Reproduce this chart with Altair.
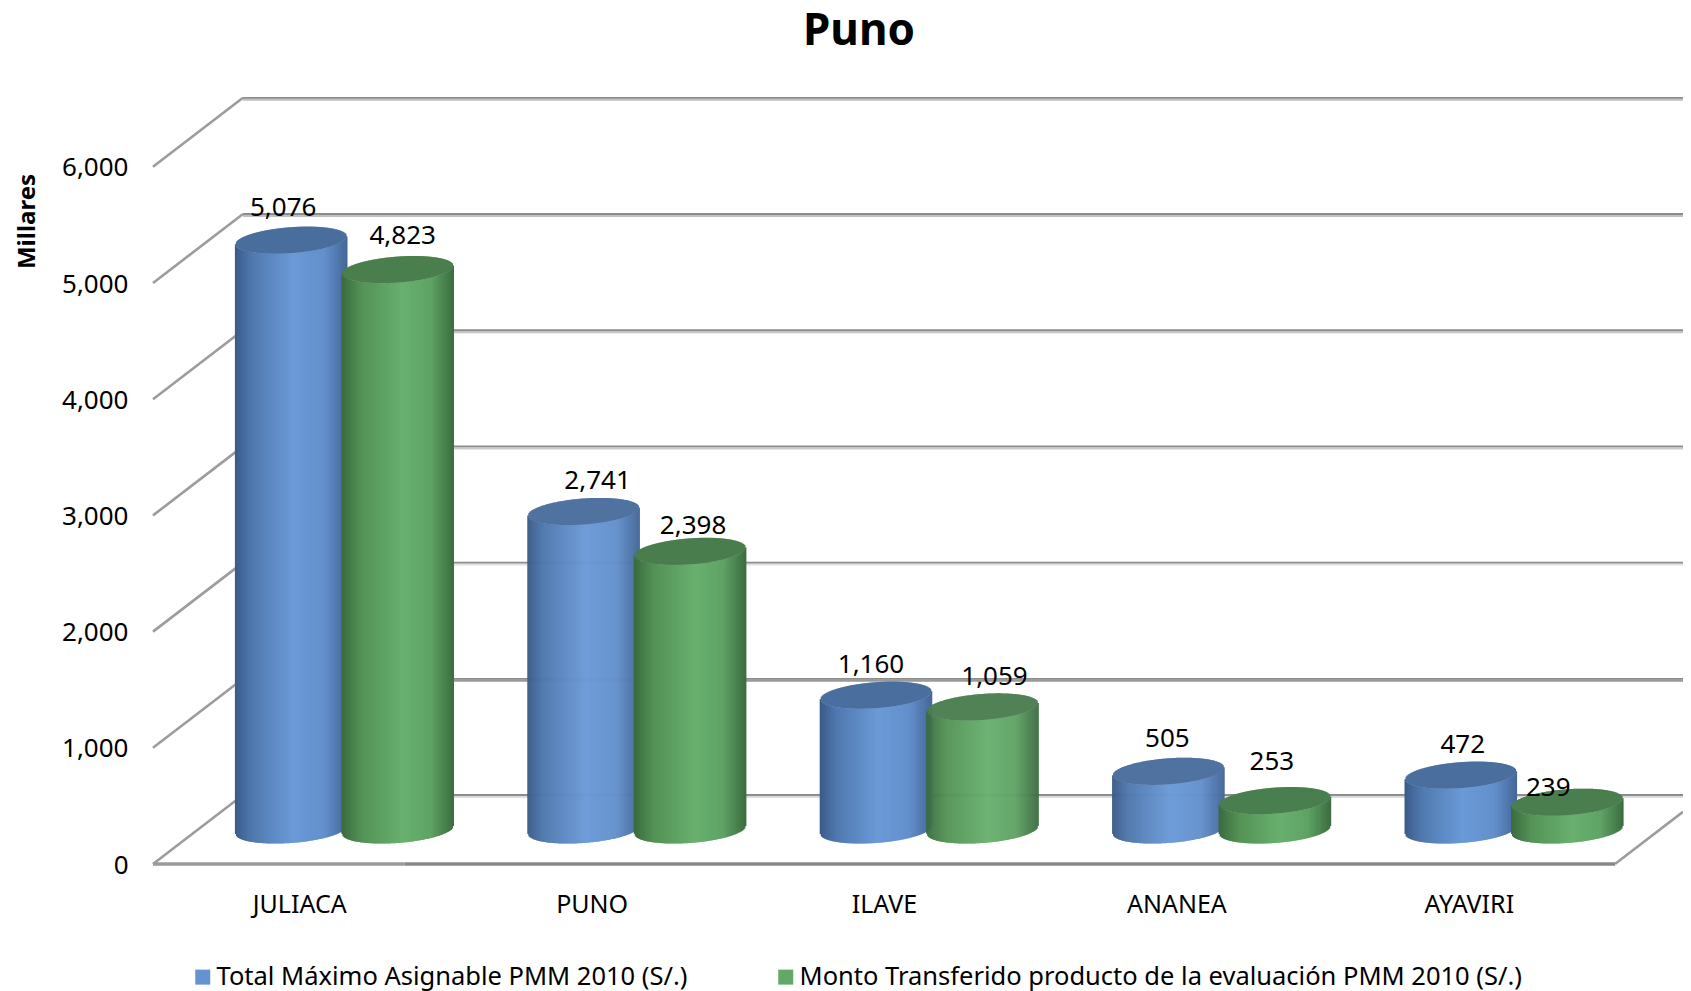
import numpy as np
import pandas as pd
import altair as alt

categories = ["JULIACA", "PUNO", "ILAVE", "ANANEA", "AYAVIRI"]
series_names = ["Total Máximo Asignable PMM 2010 (S/.)",
                "Monto Transferido producto de la evaluación PMM 2010 (S/.)"]
total_max = [5076, 2741, 1160, 505, 472]
monto = [4823, 2398, 1059, 253, 239]
ticks = [0, 1000, 2000, 3000, 4000, 5000, 6000]

FONT = "Noto Sans"
W, H = 1530, 766
PX_CAT = 292.4          # pixels per category
PX_VAL = 0.1162         # pixels per unit of value
DEPTH_X = 90 / PX_CAT   # the 3-D depth of the floor
DEPTH_Y = 69 / PX_VAL
BASE = 34 / PX_VAL      # floor position of the cylinders
A, B, K = 55.5, 13, 4 / 56  # cylinder radius, ellipse height, shear (px)
CENTRE_SHIFT = {0: -53, 1: 53.5}
LABEL_SHIFT = {
    0: [(-8, 32), (14, 30), (-5, 30), (-1, 32), (2, 30)],
    1: [(5, 34), (3, 25), (12, 30), (-3, 39), (-19, 14)],
}
BODY = {
    0: [(0, "#3c5b88"), (0.14, "#4f78ae"), (0.52, "#6b9ad8"), (0.8, "#6390cc"), (1, "#46689a")],
    1: [(0, "#3b6b40"), (0.18, "#549356"), (0.55, "#68b06f"), (0.8, "#5fa365"), (1, "#3d6e42")],
}
TOP = {0: "#4a6e9e", 1: "#4a7e4e"}
GRID_LIGHT = ["#dcdcdc", "#999999", "#e0e0e0", "#cccccc", "#c4c4c4", "#c0c0c0", "#c0c0c0"]


def centre_x(i, s):
    return i + 0.5 + (45 + CENTRE_SHIFT[s]) / PX_CAT


def shade(stops, f):
    offs = [o for o, _ in stops]
    rgb = np.array([[int(c[k:k + 2], 16) for k in (1, 3, 5)] for _, c in stops], float)
    vals = [np.interp(f, offs, rgb[:, k]) for k in range(3)]
    return "#%02x%02x%02x" % tuple(int(round(v)) for v in vals)


def cylinder(i, v, s):
    rows = []
    cx = centre_x(i, s)
    for dx in np.arange(-A, A + 0.5, 1.0):
        dx = float(dx)
        t = dx / A
        shear = K * dx
        arc = B * float(np.sqrt(max(0.0, 1 - t * t)))
        rows.append(dict(
            px=cx + dx / PX_CAT,
            y_up=BASE + v + (shear + arc) / PX_VAL,
            y_lo=BASE + v + (shear - arc) / PX_VAL,
            y_fl=BASE + (shear - arc) / PX_VAL,
            c=shade(BODY[s], (t + 1) / 2),
        ))
    return rows


x_scale = alt.Scale(domain=[0, W / PX_CAT], nice=False, zero=False)
y_scale = alt.Scale(domain=[0, H / PX_VAL], nice=False, zero=False)

x_axis = alt.Axis(
    values=[i + 0.5 for i in range(len(categories))],
    labelExpr="%s[floor(datum.value)]" % str(categories),
    title=None, ticks=False, domain=False, grid=False,
    labelFont=FONT, labelFontSize=25, labelColor="#000000", labelPadding=40,
    labelAngle=0, labelBaseline="middle", labelFlush=False, labelOverlap=False,
)
y_axis = alt.Axis(
    values=ticks, format=",.0f", title="Millares", ticks=False, domain=False, grid=False,
    labelFont=FONT, labelFontSize=26, labelColor="#000000", labelPadding=25, labelOffset=1,
    titleFont=FONT, titleFontSize=24, titleFontWeight="bold", titleColor="#000000",
    titleX=-126, titleY=123, titleAlign="center", titleBaseline="middle", titleAngle=-90,
)

# 3-D frame
back = pd.DataFrame([dict(x0=DEPTH_X, x1=W / PX_CAT, y0=v + DEPTH_Y, y1=v + DEPTH_Y) for v in ticks])
back_light = pd.DataFrame([dict(x0=DEPTH_X, x1=W / PX_CAT, y0=v + DEPTH_Y - 1.9 / PX_VAL,
                                y1=v + DEPTH_Y - 1.9 / PX_VAL, c=c)
                           for v, c in zip(ticks, GRID_LIGHT)])
side = pd.DataFrame([dict(x0=0, x1=DEPTH_X, y0=v, y1=v + DEPTH_Y) for v in ticks]
                    + [dict(x0=len(categories), x1=W / PX_CAT, y0=0,
                            y1=(W / PX_CAT - len(categories)) / DEPTH_X * DEPTH_Y)])
front_a = pd.DataFrame([dict(x0=0, x1=0.86, y0=0, y1=0)])
front_b = pd.DataFrame([dict(x0=0.86, x1=len(categories), y0=0, y1=0)])


def rule(df, color, width):
    return alt.Chart(df).mark_rule(color=color, strokeWidth=width).encode(
        x=alt.X("x0:Q", scale=x_scale, axis=x_axis), x2="x1:Q",
        y=alt.Y("y0:Q", scale=y_scale, axis=y_axis), y2="y1:Q",
    )


light = alt.Chart(back_light).mark_rule(strokeWidth=2.2).encode(
    x=alt.X("x0:Q", scale=x_scale, axis=x_axis), x2="x1:Q",
    y=alt.Y("y0:Q", scale=y_scale, axis=y_axis), y2="y1:Q",
    stroke=alt.Stroke("c:N", scale=None),
)

layers = [light, rule(back, "#8c8c8c", 1.8), rule(side, "#9c9c9c", 2.6),
          rule(front_a, "#9a9a9a", 3.6), rule(front_b, "#888888", 3.6)]

for s, values in enumerate([total_max, monto]):
    rows = []
    for i, v in enumerate(values):
        rows += cylinder(i, v, s)
    base = alt.Chart(pd.DataFrame(rows))
    xenc = alt.X("px:Q", scale=x_scale, axis=x_axis)
    layers.append(base.mark_rule(strokeWidth=1.6).encode(
        x=xenc, y=alt.Y("y_lo:Q", scale=y_scale, axis=y_axis), y2="y_fl:Q",
        stroke=alt.Stroke("c:N", scale=None)))
    layers.append(base.mark_rule(strokeWidth=1.6, color=TOP[s]).encode(
        x=xenc, y=alt.Y("y_up:Q", scale=y_scale, axis=y_axis), y2="y_lo:Q"))

label_rows = []
for s, values in enumerate([total_max, monto]):
    for i, v in enumerate(values):
        dx, dy = LABEL_SHIFT[s][i]
        label_rows.append(dict(
            lx=centre_x(i, s) + dx / PX_CAT, ly=BASE + v + dy / PX_VAL,
            value=v, series=series_names[s],
        ))
labels = pd.DataFrame(label_rows)

layers.append(alt.Chart(labels).mark_text(
    font=FONT, fontSize=26, color="#000000", baseline="middle", align="center"
).encode(
    x=alt.X("lx:Q", scale=x_scale, axis=x_axis),
    y=alt.Y("ly:Q", scale=y_scale, axis=y_axis),
    text=alt.Text("value:Q", format=",.0f"),
))

# legend carrier
layers.append(alt.Chart(labels).mark_square(size=0, opacity=1).encode(
    x=alt.X("lx:Q", scale=x_scale, axis=x_axis),
    y=alt.Y("ly:Q", scale=y_scale, axis=y_axis),
    color=alt.Color("series:N", scale=alt.Scale(domain=series_names, range=["#6593cf", "#62a868"]),
                    legend=alt.Legend(
                        orient="none", legendX=37, legendY=866, direction="horizontal", title=None,
                        symbolType="square", symbolSize=225, symbolStrokeWidth=0, symbolOpacity=1,
                        labelFont=FONT, labelFontSize=25.5, labelColor="#000000", labelLimit=900,
                        labelOffset=1, columnPadding=85,
                    )),
))

chart = alt.layer(*layers).properties(
    width=W, height=H,
    padding={"left": 145, "top": 90, "right": 0, "bottom": 127},
    autosize=alt.AutoSizeParams(type="none"),
    background="#ffffff",
    title=alt.TitleParams("Puno", font=FONT, fontSize=44, fontWeight="bold", color="#000000",
                          anchor="middle", frame="group", dx=-59, offset=43),
).configure_view(stroke=None)

chart.save("out.html", embed_options={"renderer": "svg", "actions": False})
